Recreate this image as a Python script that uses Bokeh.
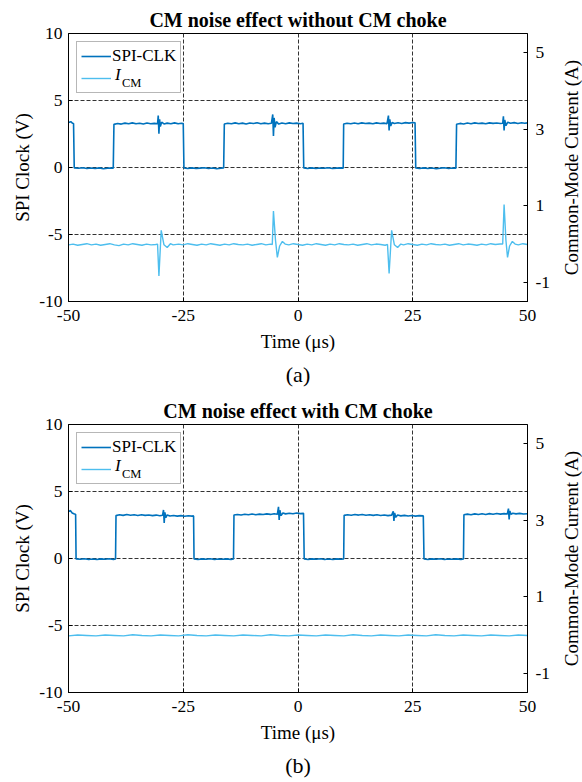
from bokeh.plotting import figure
from bokeh.models import Range1d, LinearAxis, FixedTicker, Legend, LegendItem, Title
from bokeh.layouts import column, row
from bokeh.embed import file_html
from bokeh.resources import INLINE

# ---------------- data ----------------
TITLES = ["CM noise effect without CM choke", "CM noise effect with CM choke"]
CAPTIONS = ["(a)", "(b)"]
X_TICKS = [-50, -25, 0, 25, 50]
Y_TICKS = [-10, -5, 0, 5, 10]
CM_TICKS = [-1, 1, 3, 5]

# (a) SPI clock, time in us, volts
t_spi_a = [-50, -49.5, -49.1, -48.9, -48.75, -47.8, -46.9, -46.0, -45.1, -44.2, -43.3, -42.4, -41.5, -40.6, -40.25,
           -40.1, -39.3, -38.5, -37.7, -36.9, -36.1, -35.3, -34.5, -33.7, -32.9, -32.1, -31.3, -30.6, -30.45, -30.3,
           -30.15, -30.0, -29.7, -29.2, -28.5, -27.7, -26.9, -26.1, -25.4, -25.0,
           -24.85, -24.0, -23.1, -22.2, -21.3, -20.4, -19.5, -18.6, -17.7, -16.8, -16.2,
           -16.05, -15.3, -14.5, -13.7, -12.9, -12.1, -11.3, -10.5, -9.7, -8.9, -8.1, -7.3, -6.5, -5.8, -5.5, -5.35,
           -5.2, -5.0, -4.7, -4.2, -3.5, -2.7, -1.9, -1.1, -0.3, 0.5, 1.1,
           1.25, 2.1, 3.0, 3.9, 4.8, 5.7, 6.6, 7.5, 8.4, 9.3, 9.85,
           9.95, 10.7, 11.5, 12.3, 13.1, 13.9, 14.7, 15.5, 16.3, 17.1, 17.9, 18.7, 19.4, 19.7, 19.85,
           20.0, 20.2, 20.5, 21.0, 21.8, 22.6, 23.4, 24.2, 25.0, 25.5,
           25.65, 26.5, 27.4, 28.3, 29.2, 30.1, 31.0, 31.9, 32.8, 33.7, 34.4,
           34.55, 35.3, 36.1, 36.9, 37.7, 38.5, 39.3, 40.1, 40.9, 41.7, 42.5, 43.3, 44.1, 44.6, 44.75, 44.9,
           45.05, 45.3, 45.7, 46.3, 47.1, 47.9, 48.7, 49.4, 50]
v_spi_a = [3.36, 3.42, 3.30, 3.28, -0.03, -0.06, -0.02, -0.08, -0.04, -0.07, -0.03, -0.09, -0.05, -0.04, -0.06,
           3.22, 3.28, 3.24, 3.31, 3.26, 3.33, 3.27, 3.30, 3.25, 3.32, 3.27, 3.29, 3.26, 3.88, 2.52,
           3.60, 3.05, 3.38, 3.25, 3.31, 3.27, 3.33, 3.26, 3.30, 3.28,
           -0.04, -0.07, -0.03, -0.08, -0.05, -0.02, -0.07, -0.04, -0.09, -0.05, -0.04,
           3.25, 3.30, 3.26, 3.33, 3.27, 3.31, 3.25, 3.32, 3.28, 3.34, 3.27, 3.31, 3.26, 3.30, 3.96, 2.35,
           3.70, 3.00, 3.42, 3.24, 3.32, 3.27, 3.33, 3.28, 3.31, 3.27, 3.30,
           -0.03, -0.07, -0.03, -0.08, -0.04, -0.06, -0.02, -0.08, -0.05, -0.03, -0.06,
           3.24, 3.30, 3.26, 3.32, 3.27, 3.33, 3.28, 3.31, 3.26, 3.33, 3.28, 3.31, 3.27, 3.88, 2.76,
           3.60, 3.10, 3.36, 3.28, 3.34, 3.29, 3.35, 3.31, 3.36, 3.33,
           -0.04, -0.08, -0.03, -0.07, -0.04, -0.09, -0.05, -0.02, -0.07, -0.04, -0.06,
           3.22, 3.29, 3.25, 3.32, 3.27, 3.33, 3.28, 3.31, 3.26, 3.33, 3.29, 3.32, 3.28, 3.30, 3.82, 2.76,
           3.55, 3.12, 3.38, 3.30, 3.35, 3.29, 3.34, 3.30, 3.33]

# (a) common-mode current, time in us, amperes
t_cm_a = [-50, -49, -48, -47, -46, -45, -44, -43, -42, -41, -40, -39, -38, -37, -36, -35, -34, -33, -32, -31, -30.6,
          -30.3, -29.8, -29.2, -28.5, -27.8, -27.2, -26, -25, -24, -23, -22, -21, -20, -19, -18, -17, -16, -15,
          -14, -13, -12, -11, -10, -9, -8, -7, -6, -5.6,
          -5.35, -4.9, -4.5, -4.0, -3.4, -2.8, -2.0, -1, 0, 1, 2, 3, 4, 5, 6, 7, 8, 9, 10, 11, 12, 13, 14, 15,
          16, 17, 18, 19, 19.5,
          19.85, 20.4, 21.0, 21.7, 22.4, 23, 24, 25, 26, 27, 28, 29, 30, 31, 32, 33, 34, 35, 36, 37, 38, 39, 40,
          41, 42, 43, 44, 44.6,
          44.9, 45.3, 45.65, 46.1, 46.7, 47.3, 48, 49, 50]
v_cm_a = [-0.02, 0.00, -0.03, -0.01, 0.01, -0.02, 0.00, -0.03, -0.01, 0.01, -0.02, -0.04, 0.00, -0.02, 0.01, -0.01,
          -0.03, 0.00, -0.02, -0.01, 0.00,
          -0.83, 0.36, -0.02, -0.09, 0.01, -0.02, 0.00, -0.02, 0.01, -0.01, -0.03, 0.00, -0.02, 0.01, -0.01, -0.03,
          0.00, -0.02, 0.01, -0.01, -0.02, 0.00, -0.03, -0.01, 0.01, -0.02, 0.00, -0.01,
          0.86, 0.10, -0.35, -0.05, 0.07, 0.00, -0.02, 0.01, -0.01, -0.03, 0.00, -0.02, 0.01, -0.01, -0.03, 0.00,
          -0.02, 0.01, -0.01, -0.02, 0.00, -0.03, -0.01, 0.01,
          -0.02, 0.00, -0.01, -0.03, -0.01,
          -0.77, 0.36, -0.02, -0.09, 0.00, -0.02, 0.01, -0.01, -0.03, 0.00, -0.02, 0.01, -0.01, -0.02, 0.00, -0.03,
          -0.01, 0.01, -0.02, 0.00, -0.01, -0.03, 0.00, -0.02, 0.01, -0.01, 0.00, 0.00,
          1.03, 0.10, -0.35, -0.05, 0.07, 0.00, -0.02, 0.01, -0.01]

# (b) SPI clock
t_spi_b = [-50, -49.6, -49.2, -48.7, -48.45,
           -48.35, -47.4, -46.5, -45.6, -44.7, -43.8, -42.9, -42.0, -41.1, -40.2, -39.75,
           -39.65, -38.9, -38.1, -37.3, -36.5, -35.7, -34.9, -34.1, -33.3, -32.5, -31.7, -30.9, -30.1, -29.5, -29.3,
           -29.15, -29.0, -28.8, -28.5, -27.9, -27.1, -26.3, -25.5, -24.7, -23.9, -23.1, -22.75,
           -22.65, -21.8, -20.9, -20.0, -19.1, -18.2, -17.3, -16.4, -15.5, -14.6, -14.05,
           -13.95, -13.2, -12.4, -11.6, -10.8, -10.0, -9.2, -8.4, -7.6, -6.8, -6.0, -5.2, -4.5, -4.25, -4.1,
           -3.95, -3.7, -3.3, -2.7, -1.9, -1.1, -0.3, 0.5, 1.2,
           1.35, 2.2, 3.1, 4.0, 4.9, 5.8, 6.7, 7.6, 8.5, 9.4, 9.95,
           10.05, 10.8, 11.6, 12.4, 13.2, 14.0, 14.8, 15.6, 16.4, 17.2, 18.0, 18.8, 19.6, 20.4, 20.75, 20.9,
           21.05, 21.3, 21.7, 22.4, 23.2, 24.0, 24.8, 25.6, 26.4, 27.3,
           27.45, 28.3, 29.2, 30.1, 31.0, 31.9, 32.8, 33.7, 34.6, 35.5, 36.05,
           36.15, 36.9, 37.7, 38.5, 39.3, 40.1, 40.9, 41.7, 42.5, 43.3, 44.1, 44.9, 45.6, 45.85, 46.0,
           46.15, 46.4, 46.8, 47.5, 48.3, 49.1, 50]
v_spi_b = [3.50, 3.58, 3.40, 3.32, 3.30,
           -0.03, -0.06, -0.02, -0.07, -0.04, -0.08, -0.03, -0.06, -0.02, -0.07, -0.04,
           3.20, 3.26, 3.22, 3.28, 3.23, 3.27, 3.21, 3.26, 3.22, 3.25, 3.20, 3.24, 3.19, 3.23, 3.62,
           2.66, 3.45, 3.05, 3.25, 3.17, 3.21, 3.16, 3.20, 3.15, 3.19, 3.16, 3.18,
           -0.04, -0.07, -0.03, -0.06, -0.02, -0.08, -0.04, -0.06, -0.03, -0.07, -0.04,
           3.24, 3.29, 3.24, 3.30, 3.26, 3.32, 3.27, 3.31, 3.28, 3.33, 3.29, 3.34, 3.30, 3.85, 2.88,
           3.60, 3.20, 3.40, 3.33, 3.38, 3.34, 3.39, 3.35, 3.37,
           -0.03, -0.07, -0.03, -0.06, -0.02, -0.07, -0.04, -0.08, -0.03, -0.06, -0.04,
           3.22, 3.27, 3.23, 3.28, 3.24, 3.29, 3.23, 3.27, 3.22, 3.26, 3.21, 3.25, 3.20, 3.24, 3.52, 2.80,
           3.40, 3.08, 3.24, 3.18, 3.22, 3.17, 3.21, 3.16, 3.20, 3.18,
           -0.04, -0.07, -0.03, -0.06, -0.02, -0.08, -0.04, -0.06, -0.03, -0.07, -0.04,
           3.26, 3.31, 3.27, 3.33, 3.28, 3.34, 3.29, 3.35, 3.30, 3.36, 3.31, 3.35, 3.32, 3.72, 2.92,
           3.55, 3.30, 3.38, 3.33, 3.37, 3.32, 3.34]

# (b) common-mode current
t_cm_b = [-50, -48, -46, -44, -42, -40, -38, -36, -34, -32, -30, -28, -26, -24, -22, -20, -18, -16, -14, -12, -10,
          -8, -6, -4, -2, 0, 2, 4, 6, 8, 10, 12, 14, 16, 18, 20, 22, 24, 26, 28, 30, 32, 34, 36, 38, 40, 42, 44,
          46, 48, 50]
v_cm_b = [-0.02, 0.00, -0.01, -0.02, 0.00, -0.01, -0.02, 0.01, -0.01, -0.02, 0.00, -0.01, -0.02, 0.01, -0.01,
          -0.02, 0.00, -0.01, -0.02, 0.00, -0.01, -0.02, 0.01, -0.01, -0.02, 0.00, -0.01, -0.02, 0.00, -0.01, -0.02,
          0.01, -0.01, -0.02, 0.00, -0.01, -0.02, 0.00, -0.01, -0.02, 0.01, -0.01, -0.02, 0.00, -0.01, -0.02, 0.00,
          -0.01, -0.02, 0.00, -0.01]

# ---------------- styling ----------------
FONT = "Liberation Serif"
SPI_COLOR = "#0072BD"
CM_COLOR = "#4DBEEE"
GRID_COLOR = "#333333"
RIGHT_LABEL = "Common-Mode Current (A)"


def hyphen_overrides(ticks):
    return {t: str(t) for t in ticks}


def style_axis(ax, ticks):
    ax.ticker = FixedTicker(ticks=ticks)
    ax.major_label_overrides = hyphen_overrides(ticks)
    ax.major_label_text_font = FONT
    ax.major_label_text_font_size = "17.5px"
    ax.major_label_text_color = "black"
    ax.axis_label_text_font = FONT
    ax.axis_label_text_font_size = "19px"
    ax.axis_label_text_font_style = "normal"
    ax.axis_label_text_color = "black"
    ax.major_tick_in = 4
    ax.major_tick_out = 0
    ax.minor_tick_in = 0
    ax.minor_tick_out = 0
    ax.axis_line_color = "black"
    ax.major_tick_line_color = "black"


def text_legend(renderer, text, vx, vy, size, style):
    # a legend used only as a piece of text (no glyph, no box)
    return Legend(items=[LegendItem(label=text, renderers=[renderer])],
                  location=(vx, vy), margin=0, padding=0, spacing=0,
                  label_height=20, glyph_height=20, glyph_width=0, label_standoff=0,
                  label_text_font=FONT, label_text_font_size=size, label_text_font_style=style,
                  label_text_color="black", border_line_color=None,
                  background_fill_alpha=0)


def make_panel(title_text, caption, t_spi, v_spi, t_cm, v_cm):
    p = figure(frame_width=459, frame_height=268,
               x_range=Range1d(-50, 50), y_range=Range1d(-10, 10),
               output_backend="svg", toolbar_location=None,
               min_border_left=68, min_border_right=30, min_border_top=33, min_border_bottom=90,
               background_fill_color="white", border_fill_color="white",
               outline_line_color="black", outline_line_width=1)
    p.extra_y_ranges = {"cm": Range1d(-1.5, 5.5)}

    p.title.text = title_text
    p.title.align = "center"
    p.title.text_font = FONT
    p.title.text_font_size = "20px"
    p.title.text_font_style = "bold"
    p.title.text_color = "black"
    p.title.standoff = 6

    xax = p.xaxis[0]
    yax = p.yaxis[0]
    style_axis(xax, X_TICKS)
    style_axis(yax, Y_TICKS)
    xax.axis_label = "Time (μs)"
    yax.axis_label = "SPI Clock (V)"
    xax.major_label_standoff = 8
    xax.axis_label_standoff = 7
    yax.major_label_standoff = 6
    yax.axis_label_standoff = 3

    rax = LinearAxis(y_range_name="cm")
    style_axis(rax, CM_TICKS)
    rax.major_label_standoff = 8
    p.add_layout(rax, "right")

    for g in (p.xgrid[0], p.ygrid[0]):
        g.grid_line_color = GRID_COLOR
        g.grid_line_dash = "4 2"
        g.grid_line_width = 1
    p.xgrid.ticker = FixedTicker(ticks=X_TICKS)
    p.ygrid.ticker = FixedTicker(ticks=Y_TICKS)

    r_spi = p.line(t_spi, v_spi, line_color=SPI_COLOR, line_width=1.6)
    r_cm = p.line(t_cm, v_cm, line_color=CM_COLOR, line_width=1.4, y_range_name="cm")

    legend = Legend(items=[LegendItem(label="SPI-CLK", renderers=[r_spi]),
                           LegendItem(label=" ", renderers=[r_cm])],
                    location="top_left", margin=8, padding=4, spacing=2,
                    label_height=20, glyph_height=20, glyph_width=30, label_standoff=1,
                    label_text_font=FONT, label_text_font_size="17px", label_text_color="black",
                    border_line_color="#707070", border_line_width=1.5,
                    background_fill_color="white", background_fill_alpha=1)
    p.add_layout(legend)
    # "I" (italic) and subscript "CM" of the second legend entry
    p.add_layout(text_legend(r_cm, "I", 47, 216, "17px", "italic"))
    p.add_layout(text_legend(r_cm, "CM", 54, 208, "12.5px", "normal"))

    p.add_layout(Title(text=caption, align="center", text_font=FONT, text_font_size="22px",
                       text_font_style="normal", text_color="black", standoff=10), "below")
    return p


def make_side_label():
    # narrow strip carrying the right-hand axis title, reading bottom to top
    s = figure(frame_width=1, frame_height=268, x_range=Range1d(0, 1), y_range=Range1d(0, 1),
               x_axis_type=None, y_axis_type=None,
               output_backend="svg", toolbar_location=None,
               min_border_left=24, min_border_right=0, min_border_top=33, min_border_bottom=90,
               background_fill_color="white", border_fill_color="white", outline_line_color=None)
    ax = LinearAxis(ticker=FixedTicker(ticks=[]), axis_label=RIGHT_LABEL)
    ax.axis_line_color = None
    ax.major_tick_line_color = None
    ax.minor_tick_line_color = None
    ax.major_label_text_font_size = "0px"
    ax.axis_label_text_font = FONT
    ax.axis_label_text_font_size = "19px"
    ax.axis_label_text_font_style = "normal"
    ax.axis_label_text_color = "black"
    ax.axis_label_standoff = 5
    ax.major_label_standoff = 0
    s.add_layout(ax, "left")
    return s


p1 = make_panel(TITLES[0], CAPTIONS[0], t_spi_a, v_spi_a, t_cm_a, v_cm_a)
p2 = make_panel(TITLES[1], CAPTIONS[1], t_spi_b, v_spi_b, t_cm_b, v_cm_b)
layout = column(row(p1, make_side_label(), spacing=0), row(p2, make_side_label(), spacing=0), spacing=0)

open("out.html", "w").write(file_html(layout, INLINE))
